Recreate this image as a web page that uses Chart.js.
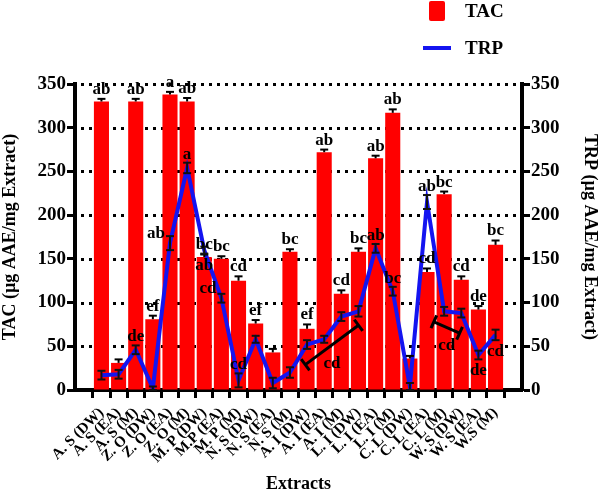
<!doctype html>
<html>
<head>
<meta charset="utf-8" />
<title>TAC and TRP of extracts</title>
<script src="https://cdn.jsdelivr.net/npm/chart.js@4"></script>
<style>
body{margin:0;background:#fff}
#wrap{position:relative;width:600px;height:495px}
#legend{position:absolute;left:0;top:0;width:600px;height:70px;font:bold 19px 'Liberation Serif',serif;color:#000}
.row{position:absolute;left:419px;height:22px;display:flex;align-items:center}
.sw{width:36px;display:flex;justify-content:center;align-items:center}
.txt{margin-left:10px}
</style>
</head>
<body>
<div id="wrap">
  <canvas id="chart" width="600" height="495"></canvas>
  <div id="legend"></div>
</div>
<script>
const categories = [
  'A. S (DW)', 'A. S (EA)', 'A. S (M)', 'Z. O (DW)', 'Z. O (EA)', 'Z. O (M)',
  'M. P (DW)', 'M.P (EA)', 'M. P (M)', 'N. S (DW)', 'N. S (EA)', 'N. S (M)',
  'A. I (DW)', 'A. I (EA)', 'A. I (M)', 'L. I (DW)', 'L. I (EA)', 'L. I (M)',
  'C. L (DW)', 'C. L (EA)', 'C. L (M)', 'W. S (DW)', 'W. S (EA)', 'W.S (M)'
];
const tacValues = [330, 31, 330, 81, 338, 330, 152, 150, 125, 76, 43, 158,
                   70, 272, 110, 158, 265, 317, 36, 135, 224, 126, 92, 166];
const tacErr = [3, 4, 3, 4, 3, 4, 3, 3, 5, 4, 4, 3, 5, 3, 4, 4, 3, 4, 3, 4, 3, 4, 4, 5];
const trpValues = [17, 18, 46, 2, 168, 254, 160, 105, 11, 58, 8, 20,
                   52, 58, 84, 90, 162, 113, 4, 215, 90, 88, 40, 63];
const trpErr = [5, 5, 5, 2, 8, 6, 4, 5, 8, 4, 6, 6, 5, 4, 5, 6, 5, 5, 4, 8, 5, 5, 5, 6];
const yTicks = [0, 50, 100, 150, 200, 250, 300, 350];

// significance letters
const tacLetters = ['ab', '', 'ab', 'ef', 'a', 'ab', 'bc', 'bc', 'cd', 'ef', '', 'bc',
                    'ef', 'ab', 'cd', 'bc', 'ab', 'ab', '', 'cd', 'bc', 'cd', 'de', 'bc'];
const trpLetters = ['', '', 'de', '', 'ab', 'a', 'ab', 'cd', 'cd', '', '', '',
                    '', '', '', '', 'ab', 'bc', '', 'ab', '', '', 'de', 'cd'];
const trpLetterSide = ['', '', 'above', '', 'left', 'above', 'below', 'left', 'above', '', '', '',
                       '', '', '', '', 'above', 'above', '', 'above', '', '', 'below', 'below'];
// group brackets: [category index, value] at each end
const brackets = [
  { from: [11.9, 29], to: [15.0, 74], label: 'cd' },
  { from: [19.4, 78], to: [20.9, 65], label: 'cd' }
];

const SERIF = "'Liberation Serif', 'Times New Roman', serif";

function seg(ctx, x1, y1, x2, y2) {
  ctx.beginPath();
  ctx.moveTo(x1, y1);
  ctx.lineTo(x2, y2);
  ctx.stroke();
}

// dotted horizontal grid, drawn first so the bars cover it
function drawDottedGrid(chart) {
  const { ctx, chartArea, scales } = chart;
  ctx.save();
  ctx.fillStyle = '#000';
  yTicks.forEach((v) => {
    if (v === 0) return;
    const py = Math.round(scales.y.getPixelForValue(v));
    for (let px = chartArea.left + 6; px < chartArea.right - 2; px += 8) {
      ctx.fillRect(px, py - 1, 3, 3);
    }
  });
  ctx.restore();
}

const annotate = {
  id: 'annotate',
  beforeDatasetsDraw(chart) {
    drawDottedGrid(chart);
  },
  afterDatasetsDraw(chart) {
    const { ctx, scales } = chart;
    const x = scales.x, y = scales.y, y1 = scales.y1;
    ctx.save();
    ctx.strokeStyle = '#000';
    ctx.lineWidth = 2;

    // TAC error bars (upper half)
    tacValues.forEach((v, i) => {
      const px = x.getPixelForValue(i);
      const top = y.getPixelForValue(v + tacErr[i]);
      seg(ctx, px, y.getPixelForValue(v), px, top);
      seg(ctx, px - 4, top, px + 4, top);
    });
    // TRP error bars
    ctx.strokeStyle = '#111';
    trpValues.forEach((v, i) => {
      const px = x.getPixelForValue(i);
      const hi = y1.getPixelForValue(v + trpErr[i]);
      const lo = y1.getPixelForValue(Math.max(0, v - trpErr[i]));
      seg(ctx, px, lo, px, hi);
      seg(ctx, px - 4, hi, px + 4, hi);
      seg(ctx, px - 4, lo, px + 4, lo);
    });

    ctx.fillStyle = '#000';
    ctx.font = 'bold 17px ' + SERIF;
    ctx.textAlign = 'center';
    ctx.textBaseline = 'alphabetic';
    tacLetters.forEach((t, i) => {
      if (!t) return;
      const px = x.getPixelForValue(i);
      const top = y.getPixelForValue(tacValues[i] + tacErr[i]);
      ctx.fillText(t, px, top - 5);
    });

    trpLetters.forEach((t, i) => {
      if (!t) return;
      const px = x.getPixelForValue(i);
      const py = y1.getPixelForValue(trpValues[i]);
      const hi = y1.getPixelForValue(trpValues[i] + trpErr[i]);
      const lo = y1.getPixelForValue(Math.max(0, trpValues[i] - trpErr[i]));
      const side = trpLetterSide[i];
      if (side === 'above') {
        ctx.textAlign = 'center'; ctx.textBaseline = 'alphabetic';
        ctx.fillText(t, px, hi - 4);
      } else if (side === 'below') {
        ctx.textAlign = 'center'; ctx.textBaseline = 'top';
        ctx.fillText(t, px, lo + 3);
      } else {
        ctx.textAlign = 'right'; ctx.textBaseline = 'middle';
        ctx.fillText(t, px - 5, py - 10);
      }
    });

    // brackets
    ctx.lineWidth = 3;
    ctx.strokeStyle = '#000';
    ctx.textAlign = 'center';
    ctx.textBaseline = 'top';
    brackets.forEach((b) => {
      const ax = x.getPixelForValue(b.from[0]), ay = y.getPixelForValue(b.from[1]);
      const bx = x.getPixelForValue(b.to[0]), by = y.getPixelForValue(b.to[1]);
      const len = Math.hypot(bx - ax, by - ay);
      const nx = -(by - ay) / len * 7, ny = (bx - ax) / len * 7;
      seg(ctx, ax, ay, bx, by);
      seg(ctx, ax - nx, ay - ny, ax + nx, ay + ny);
      seg(ctx, bx - nx, by - ny, bx + nx, by + ny);
      ctx.fillText(b.label, (ax + bx) / 2, (ay + by) / 2 + 10);
    });
    ctx.restore();
  }
};

const tickFont = { family: SERIF, size: 19, weight: 'bold' };
const titleFont = { family: SERIF, size: 18, weight: 'bold', lineHeight: 1.2 };

const chart = new Chart(document.getElementById('chart'), {
  type: 'bar',
  data: {
    labels: categories.map((c, i) => i),
    datasets: [
      {
        type: 'line',
        label: 'TRP',
        data: trpValues,
        yAxisID: 'y1',
        borderColor: '#1414f0',
        backgroundColor: '#1414f0',
        borderWidth: 4,
        pointRadius: 0,
        tension: 0,
        order: 0
      },
      {
        type: 'bar',
        label: 'TAC',
        data: tacValues,
        yAxisID: 'y',
        backgroundColor: '#ff0000',
        borderWidth: 0,
        categoryPercentage: 1,
        barPercentage: 0.88,
        order: 1
      }
    ]
  },
  options: {
    responsive: false,
    animation: false,
    layout: { padding: { top: 84, left: 0, right: 0, bottom: 0 } },
    plugins: { legend: { display: false }, tooltip: { enabled: false } },
    scales: {
      x: {
        type: 'linear',
        min: -1,
        max: 24,
        afterBuildTicks: (s) => { s.ticks = s.ticks.filter((t) => t.value >= 0 && t.value < categories.length); },
        afterFit: (s) => { s.height = 105; },
        ticks: {
          stepSize: 1,
          autoSkip: false,
          maxRotation: 45,
          minRotation: 45,
          padding: 6,
          color: '#000',
          font: { family: SERIF, size: 15, weight: 'bold' },
          callback: (v) => categories[v]
        },
        grid: { drawOnChartArea: false, color: '#000', tickLength: 8, tickWidth: 3 },
        border: { color: '#000', width: 4 },
        title: { display: true, text: 'Extracts', color: '#000', font: titleFont, padding: { top: 0, bottom: 0 } }
      },
      y: {
        position: 'left',
        min: 0,
        max: 350,
        afterBuildTicks: (s) => { s.ticks = yTicks.map((v) => ({ value: v })); },
        afterFit: (s) => { s.width = 75; },
        ticks: { color: '#000', font: tickFont, padding: 1 },
        grid: { drawOnChartArea: false, color: '#000', tickLength: 8, tickWidth: 3 },
        border: { color: '#000', width: 4 },
        title: { display: true, text: 'TAC (µg AAE/mg Extract)', color: '#000', font: titleFont, padding: { top: 0, bottom: 4 } }
      },
      y1: {
        position: 'right',
        min: 0,
        max: 350,
        afterBuildTicks: (s) => { s.ticks = yTicks.map((v) => ({ value: v })); },
        afterFit: (s) => { s.width = 78; },
        ticks: { color: '#000', font: tickFont, padding: 1 },
        grid: { drawOnChartArea: false, color: '#000', tickLength: 8, tickWidth: 3 },
        border: { color: '#000', width: 4 },
        title: { display: true, text: 'TRP (µg AAE/mg Extract)', color: '#000', font: titleFont, padding: { top: 0, bottom: 8 } }
      }
    }
  },
  plugins: [annotate]
});

// vertical legend like the original figure
const legend = document.getElementById('legend');
[chart.data.datasets[1], chart.data.datasets[0]].forEach((ds, k) => {
  const row = document.createElement('div');
  row.className = 'row';
  row.style.top = (k === 0 ? 0 : 37) + 'px';
  const sw = document.createElement('div');
  sw.className = 'sw';
  const mark = document.createElement('div');
  if (ds.type === 'bar') {
    mark.style.cssText = 'width:16px;height:20px;border-radius:2px;background:' + ds.backgroundColor;
  } else {
    mark.style.cssText = 'width:28px;height:4px;background:' + ds.borderColor;
  }
  sw.appendChild(mark);
  const txt = document.createElement('span');
  txt.className = 'txt';
  txt.textContent = ds.label;
  row.appendChild(sw);
  row.appendChild(txt);
  legend.appendChild(row);
});
</script>
</body>
</html>
